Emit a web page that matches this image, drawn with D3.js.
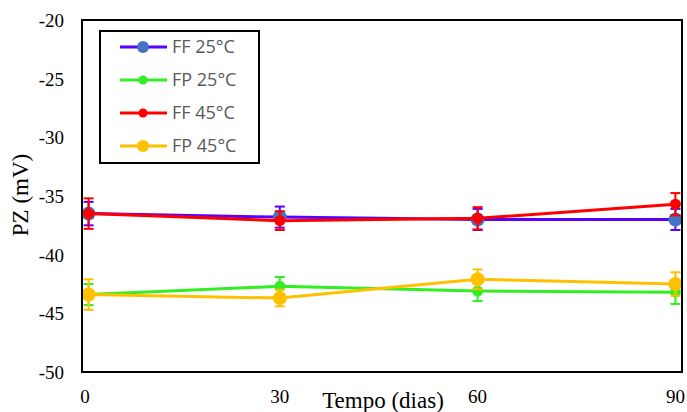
<!DOCTYPE html>
<html>
<head>
<meta charset="utf-8">
<script src="https://cdn.jsdelivr.net/npm/d3@7"></script>
<style>
  body { margin: 0; background: #fff; }
  svg { display: block; }
</style>
</head>
<body>
<div id="chart"></div>
<script>
// data
const days = [1, 30, 60, 90];
const seriesNames = ["FF 25°C", "FP 25°C", "FF 45°C", "FP 45°C"];
const ff25 = [-36.5, -36.8, -37.0, -37.0];
const ff25Err = [1.0, 0.9, 0.9, 0.9];
const fp25 = [-43.4, -42.7, -43.1, -43.2];
const fp25Err = [0.9, 0.8, 0.85, 1.0];
const ff45 = [-36.5, -37.1, -36.9, -35.7];
const ff45Err = [1.3, 0.8, 0.95, 0.95];
const fp45 = [-43.4, -43.7, -42.1, -42.5];
const fp45Err = [1.3, 0.7, 0.85, 1.0];
const xTicks = [0, 30, 60, 90];
const yTicks = [-20, -25, -30, -35, -40, -45, -50];

const W = 687, H = 412;
const m = {left: 82, right: 5, top: 20, bottom: 40};

const svg = d3.select("#chart").append("svg")
  .attr("width", W).attr("height", H);

const x = d3.scaleLinear().domain([0, 91]).range([m.left, W - m.right]);
const y = d3.scaleLinear().domain([-50, -20]).range([H - m.bottom, m.top]);

// series styling
const series = [
  {name: seriesNames[0], vals: ff25, err: ff25Err, line: "#5a00ff", dot: "#4472c4", r: 7},
  {name: seriesNames[1], vals: fp25, err: fp25Err, line: "#33ee22", dot: "#33ee22", r: 5.5},
  {name: seriesNames[2], vals: ff45, err: ff45Err, line: "#ff0000", dot: "#ff0000", r: 5.5},
  {name: seriesNames[3], vals: fp45, err: fp45Err, line: "#ffc000", dot: "#ffc000", r: 7}
];

const serif = "'Liberation Serif', 'Times New Roman', serif";

// y tick labels
svg.append("g").selectAll("text").data(yTicks).enter().append("text")
  .attr("x", 64).attr("y", d => y(d) + 7)
  .attr("text-anchor", "end")
  .attr("font-family", serif).attr("font-size", 19)
  .attr("fill", "#000")
  .text(d => d);

// x tick labels
svg.append("g").selectAll("text").data(xTicks).enter().append("text")
  .attr("x", d => x(d) + (d === 0 ? 3 : 0)).attr("y", 403)
  .attr("text-anchor", "middle")
  .attr("font-family", serif).attr("font-size", 19)
  .text(d => d);

// axis titles
svg.append("text")
  .attr("transform", "translate(28," + 195 + ") rotate(-90)")
  .attr("text-anchor", "middle")
  .attr("font-family", serif).attr("font-size", 23)
  .text("PZ (mV)");

svg.append("text")
  .attr("x", 383).attr("y", 408)
  .attr("text-anchor", "middle")
  .attr("font-family", serif).attr("font-size", 23)
  .text("Tempo (dias)");

// lines, error bars, points
const line = d3.line().x((d, i) => x(days[i])).y(d => y(d));

series.forEach(s => {
  const g = svg.append("g");
  g.append("path").datum(s.vals)
    .attr("d", line)
    .attr("fill", "none").attr("stroke", s.line).attr("stroke-width", 3);

  const eb = g.selectAll(".eb").data(s.vals).enter().append("g");
  eb.append("line")
    .attr("x1", (d, i) => x(days[i])).attr("x2", (d, i) => x(days[i]))
    .attr("y1", (d, i) => y(d - s.err[i])).attr("y2", (d, i) => y(d + s.err[i]))
    .attr("stroke", s.line).attr("stroke-width", 2);
  [-1, 1].forEach(sg => {
    eb.append("line")
      .attr("x1", (d, i) => x(days[i]) - 5).attr("x2", (d, i) => x(days[i]) + 5)
      .attr("y1", (d, i) => y(d + sg * s.err[i])).attr("y2", (d, i) => y(d + sg * s.err[i]))
      .attr("stroke", s.line).attr("stroke-width", 2);
  });

  g.selectAll("circle").data(s.vals).enter().append("circle")
    .attr("cx", (d, i) => x(days[i])).attr("cy", d => y(d))
    .attr("r", s.r).attr("fill", s.dot);
});

// plot frame
svg.append("rect")
  .attr("x", m.left).attr("y", m.top)
  .attr("width", W - m.right - m.left).attr("height", H - m.bottom - m.top)
  .attr("fill", "none").attr("stroke", "#000").attr("stroke-width", 2);

// legend
const lg = svg.append("g");
lg.append("rect")
  .attr("x", 100).attr("y", 31).attr("width", 159).attr("height", 132)
  .attr("fill", "#fff").attr("stroke", "#000").attr("stroke-width", 2);

series.forEach((s, i) => {
  const ly = 47 + i * 33;
  lg.append("line").attr("x1", 120).attr("x2", 167).attr("y1", ly).attr("y2", ly)
    .attr("stroke", s.line).attr("stroke-width", 3);
  lg.append("circle").attr("cx", 143).attr("cy", ly).attr("r", s.r - 1).attr("fill", s.dot);
  lg.append("text").attr("x", 172).attr("y", ly + 6)
    .attr("font-family", "'Open Sans', 'Noto Sans', sans-serif").attr("font-size", 18)
    .attr("fill", "#595959")
    .text(s.name);
});
</script>
</body>
</html>
